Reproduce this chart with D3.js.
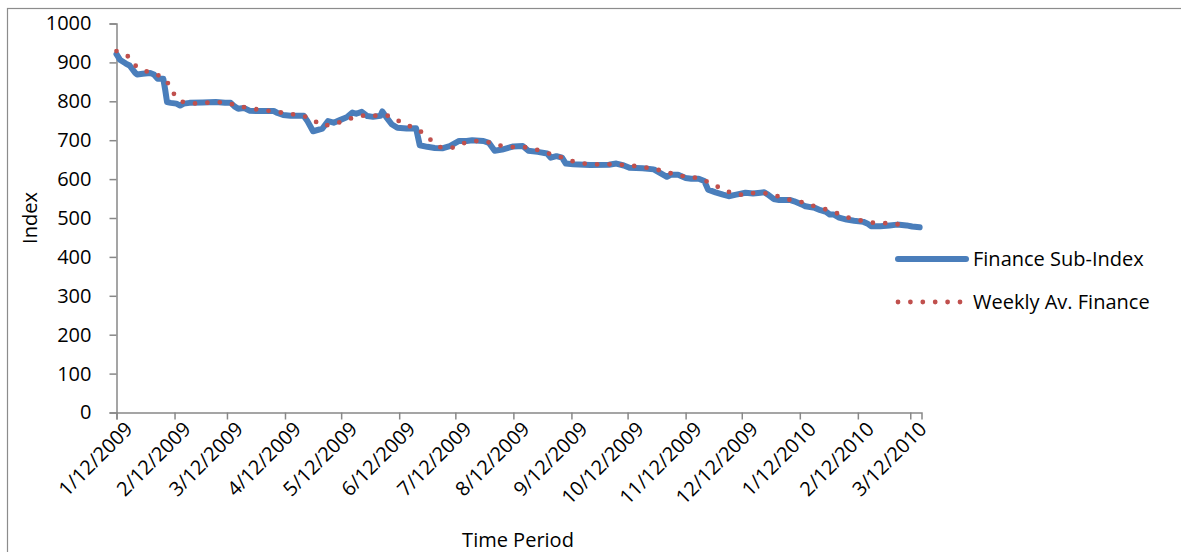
<!DOCTYPE html>
<html>
<head>
<meta charset="utf-8">
<script src="https://cdn.jsdelivr.net/npm/d3@7"></script>
<style>
  html, body { margin: 0; padding: 0; background: #fff; }
  svg { display: block; font-family: "Open Sans", Lato, sans-serif; }
</style>
</head>
<body>
<svg id="chart" width="1181" height="552"></svg>
<script>
// Finance Sub-Index, daily closes (turning points of the series)
const indexDates = [
  "2009-01-12","2009-01-14","2009-01-17","2009-01-19","2009-01-22","2009-01-23","2009-01-26","2009-01-30",
  "2009-02-01","2009-02-03","2009-02-06","2009-02-07","2009-02-08","2009-02-10","2009-02-13","2009-02-15",
  "2009-02-17","2009-02-20","2009-02-27","2009-03-06","2009-03-11","2009-03-14","2009-03-16","2009-03-18",
  "2009-03-21","2009-03-24","2009-03-28","2009-04-06","2009-04-08","2009-04-11","2009-04-15","2009-04-22",
  "2009-04-24","2009-04-27","2009-05-02","2009-05-05","2009-05-08","2009-05-11","2009-05-15","2009-05-18",
  "2009-05-20","2009-05-23","2009-05-26","2009-05-29","2009-06-02","2009-06-03","2009-06-05","2009-06-08",
  "2009-06-11","2009-06-16","2009-06-21","2009-06-23","2009-06-27","2009-07-01","2009-07-05","2009-07-09",
  "2009-07-14","2009-07-18","2009-07-21","2009-07-27","2009-07-30","2009-08-02","2009-08-06","2009-08-12",
  "2009-08-17","2009-08-20","2009-08-25","2009-08-30","2009-09-01","2009-09-04","2009-09-07","2009-09-09",
  "2009-09-13","2009-09-22","2009-10-02","2009-10-06","2009-10-10","2009-10-13","2009-10-20","2009-10-26",
  "2009-10-30","2009-11-02","2009-11-04","2009-11-08","2009-11-12","2009-11-15","2009-11-19","2009-11-22",
  "2009-11-24","2009-11-28","2009-12-02","2009-12-05","2009-12-09","2009-12-14","2009-12-18","2009-12-22",
  "2009-12-24","2009-12-26","2009-12-29","2010-01-01","2010-01-07","2010-01-09","2010-01-13","2010-01-15",
  "2010-01-20","2010-01-23","2010-01-26","2010-01-28","2010-01-30","2010-02-02","2010-02-06","2010-02-10",
  "2010-02-15","2010-02-17","2010-02-19","2010-02-24","2010-03-01","2010-03-05","2010-03-10","2010-03-13",
  "2010-03-17"
];
const indexValues = [
  921, 906, 897, 892, 873, 869, 871, 873,
  869, 858, 858, 830, 798, 796, 794, 789,
  794, 796, 797, 798, 796, 796, 787, 781,
  783, 776, 775, 775, 770, 765, 763, 763,
  749, 723, 730, 749, 745, 751, 759, 771,
  768, 773, 762, 760, 763, 774, 760, 741,
  732, 730, 731, 687, 683, 680, 679, 685,
  698, 698, 700, 698, 693, 673, 676, 684,
  685, 673, 670, 666, 655, 659, 655, 640,
  638, 636, 637, 640, 635, 629, 628, 625,
  614, 606, 611, 611, 603, 601, 601, 595,
  573, 566, 560, 556, 560, 565, 563, 565,
  566, 560, 549, 546, 546, 543, 535, 530,
  526, 520, 516, 509, 509, 501, 496, 493,
  490, 486, 479, 479, 481, 483, 481, 478,
  476
];

// Weekly average of the sub-index
const weeklyDates = [
  "2009-01-12","2009-01-18","2009-01-22","2009-01-28","2009-02-03","2009-02-08","2009-02-11","2009-02-15",
  "2009-02-21","2009-02-28","2009-03-06","2009-03-12","2009-03-19","2009-03-25","2009-04-01","2009-04-07",
  "2009-04-13","2009-04-20","2009-04-26","2009-05-01","2009-05-07","2009-05-13","2009-05-19","2009-05-26",
  "2009-06-01","2009-06-07","2009-06-13","2009-06-19","2009-06-24","2009-06-29","2009-07-04","2009-07-10",
  "2009-07-16","2009-07-22","2009-07-28","2009-08-04","2009-08-10","2009-08-17","2009-08-23","2009-08-29",
  "2009-09-04","2009-09-10","2009-09-17","2009-09-23","2009-09-30","2009-10-06","2009-10-13","2009-10-19",
  "2009-10-25","2009-11-01","2009-11-07","2009-11-13","2009-11-20","2009-11-25","2009-12-01","2009-12-07",
  "2009-12-13","2009-12-19","2009-12-26","2010-01-01","2010-01-07","2010-01-14","2010-01-20","2010-01-26",
  "2010-02-01","2010-02-07","2010-02-13","2010-02-20","2010-02-26","2010-03-05","2010-03-11"
];
const weeklyValues = [
  929, 916, 892, 877, 868, 851, 823, 800,
  794, 796, 798, 796, 787, 781, 777, 773,
  769, 764, 757, 738, 739, 749, 759, 765,
  762, 763, 746, 733, 721, 700, 682, 680,
  692, 698, 697, 687, 682, 683, 678, 668,
  661, 649, 641, 638, 638, 638, 635, 632,
  627, 620, 610, 606, 602, 590, 576, 563,
  559, 565, 563, 555, 546, 540, 530, 522,
  512, 501, 494, 488, 487, 484, 481
];

const xTickDates = [
  "2009-01-12","2009-02-12","2009-03-12","2009-04-12","2009-05-12","2009-06-12","2009-07-12","2009-08-12",
  "2009-09-12","2009-10-12","2009-11-12","2009-12-12","2010-01-12","2010-02-12","2010-03-12"
];
const yTicks = [0, 100, 200, 300, 400, 500, 600, 700, 800, 900, 1000];
const seriesNames = ["Finance Sub-Index", "Weekly Av. Finance"];
const axisTitles = { x: "Time Period", y: "Index" };

const parse = d3.timeParse("%Y-%m-%d");
const fmt = d3.timeFormat("%-m/%d/%Y");

const indexSeries = indexDates.map((d, i) => ({ date: parse(d), value: indexValues[i] }));
const weeklySeries = weeklyDates.map((d, i) => ({ date: parse(d), value: weeklyValues[i] }));

const svg = d3.select("#chart");
const plot = { left: 116.5, right: 921.5, top: 23.5, bottom: 412.5 };
const axisColor = "#888888";
const blue = "#4A7EBB";
const red = "#C0504D";
const fontSize = "20px";

// chart frame
svg.append("rect")
  .attr("x", 7.5).attr("y", 8.5)
  .attr("width", 1300).attr("height", 700)
  .attr("fill", "none").attr("stroke", "#8c8c8c").attr("stroke-width", 1.2);

const x = d3.scaleTime()
  .domain([parse("2009-01-12"), parse("2010-03-18")])
  .range([plot.left, plot.right]);
const y = d3.scaleLinear()
  .domain([0, 1000])
  .range([plot.bottom, plot.top]);

// y axis
const yAxis = svg.append("g")
  .attr("transform", `translate(${plot.left},0)`)
  .call(d3.axisLeft(y).tickValues(yTicks).tickFormat(d3.format("d")).tickSize(7).tickPadding(18));
yAxis.select(".domain").attr("stroke", axisColor).attr("stroke-width", 1.5);
yAxis.selectAll(".tick line").attr("stroke", axisColor).attr("stroke-width", 1.5);
yAxis.selectAll(".tick text")
  .attr("fill", "#000").style("font-size", fontSize).style("font-family", "'Open Sans', sans-serif");

// x axis
const xAxis = svg.append("g")
  .attr("transform", `translate(0,${plot.bottom})`)
  .call(d3.axisBottom(x).tickValues(xTickDates.map(parse)).tickFormat(fmt).tickSize(7).tickSizeOuter(7));
xAxis.select(".domain").attr("stroke", axisColor).attr("stroke-width", 1.5);
xAxis.selectAll(".tick line").attr("stroke", axisColor).attr("stroke-width", 1.5);
xAxis.selectAll(".tick text")
  .attr("fill", "#000")
  .style("font-size", fontSize).style("font-family", "'Open Sans', sans-serif")
  .attr("text-anchor", "end")
  .attr("x", 0).attr("y", 0).attr("dy", "0.35em")
  .attr("transform", "translate(12,13) rotate(-45)");

// series
const line = d3.line().x(d => x(d.date)).y(d => y(d.value));

svg.append("path")
  .datum(indexSeries)
  .attr("d", line)
  .attr("fill", "none")
  .attr("stroke", blue)
  .attr("stroke-width", 6)
  .attr("stroke-linejoin", "round")
  .attr("stroke-linecap", "round");

svg.append("path")
  .datum(weeklySeries)
  .attr("d", line)
  .attr("fill", "none")
  .attr("stroke", red)
  .attr("stroke-width", 4.8)
  .attr("stroke-linecap", "round")
  .attr("stroke-dasharray", "0 12.4");

// axis titles
svg.append("text")
  .attr("x", 518).attr("y", 547)
  .attr("text-anchor", "middle")
  .style("font-size", fontSize)
  .text(axisTitles.x);
svg.append("text")
  .attr("transform", "translate(37,218) rotate(-90)")
  .attr("text-anchor", "middle")
  .style("font-size", fontSize)
  .text(axisTitles.y);

// legend
const legend = svg.append("g").attr("transform", "translate(896,0)");
const legendRows = [
  { name: seriesNames[0], y: 259, color: blue, width: 6, dash: null },
  { name: seriesNames[1], y: 302, color: red, width: 4.8, dash: "0 12.4" }
];
legendRows.forEach(r => {
  legend.append("line")
    .attr("x1", 2).attr("x2", r.dash ? 64 : 70)
    .attr("y1", r.y).attr("y2", r.y)
    .attr("stroke", r.color).attr("stroke-width", r.width)
    .attr("stroke-linecap", "round")
    .attr("stroke-dasharray", r.dash);
  legend.append("text")
    .attr("x", 77).attr("y", r.y).attr("dy", "0.35em")
    .style("font-size", fontSize)
    .text(r.name);
});
</script>
</body>
</html>
